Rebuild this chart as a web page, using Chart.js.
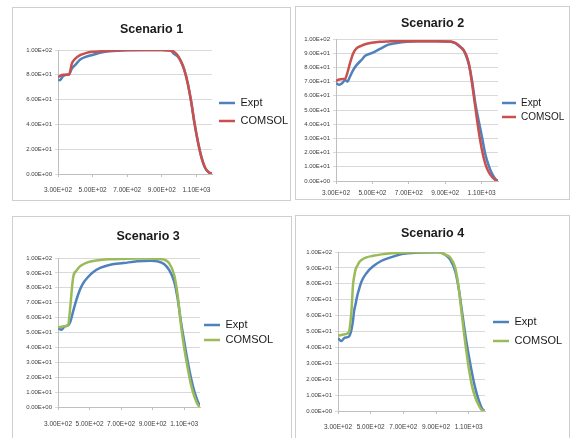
<!DOCTYPE html>
<html>
<head>
<meta charset="utf-8">
<script src="https://cdn.jsdelivr.net/npm/chart.js@4.4.1/dist/chart.umd.min.js"></script>
<style>
  html, body { margin: 0; padding: 0; background: #fff; }
  body { width: 571px; height: 438px; position: relative; overflow: hidden; }
  .panel { position: absolute; border: 1px solid #cfcfcf; box-sizing: border-box; background: #fff; }
  .panel canvas { display: block; }
</style>
</head>
<body>
<div class="panel" id="p1" style="left:12px;top:7px;width:279px;height:194px"><canvas id="c1"></canvas></div>
<div class="panel" id="p2" style="left:295px;top:6px;width:275px;height:194px"><canvas id="c2"></canvas></div>
<div class="panel" id="p3" style="left:12px;top:216px;width:280px;height:224px"><canvas id="c3"></canvas></div>
<div class="panel" id="p4" style="left:295px;top:215px;width:275px;height:225px"><canvas id="c4"></canvas></div>

<script>
// ---- data ----
const seriesNames = ['Expt', 'COMSOL'];
const titles = ['Scenario 1', 'Scenario 2', 'Scenario 3', 'Scenario 4'];

const xTickValues = [300, 500, 700, 900, 1100];
const xTickLabels = ['3.00E+02', '5.00E+02', '7.00E+02', '9.00E+02', '1.10E+03'];

const yTickValues20 = [0, 20, 40, 60, 80, 100];
const yTickLabels20 = ['0.00E+00', '2.00E+01', '4.00E+01', '6.00E+01', '8.00E+01', '1.00E+02'];
const yTickValues10 = [0, 10, 20, 30, 40, 50, 60, 70, 80, 90, 100];
const yTickLabels10 = ['0.00E+00', '1.00E+01', '2.00E+01', '3.00E+01', '4.00E+01', '5.00E+01',
                       '6.00E+01', '7.00E+01', '8.00E+01', '9.00E+01', '1.00E+02'];

// Scenario 1
const s1X = [300, 310, 330, 350, 365, 380, 400, 430, 460, 500, 550, 600, 700, 800, 900, 950, 970, 990, 1010, 1030, 1050, 1070, 1090, 1110, 1130, 1150, 1170, 1190];
const s1Expt = [76, 75.7, 79, 80, 80.5, 85, 88, 92.5, 94.5, 96, 98, 99, 99.8, 100, 100, 99.5, 97, 95, 91, 84, 73, 58, 40, 25, 13, 5, 1.5, 0];
const s1Comsol = [78, 79, 80, 80, 80.5, 89, 93, 96, 97.5, 98.5, 99, 99.5, 100, 100, 100, 99.6, 98.5, 96, 91, 84, 73, 58, 40, 25, 13, 5, 1.5, 0];

// Scenario 2
const s2X = [300, 318, 337, 350, 362, 377, 395, 414, 441, 460, 496, 542, 588, 634, 689, 750, 850, 930, 955, 975, 1000, 1015, 1030, 1047, 1065, 1083, 1102, 1120, 1140, 1160, 1175, 1190];
const s2Expt = [69, 67.7, 69.3, 71.2, 70, 73.6, 78.3, 81.8, 85.4, 88.2, 90, 93, 96, 97.2, 98.1, 98.5, 98.5, 98, 97, 95, 92.5, 88, 82, 71, 55, 43, 31, 19, 10.5, 4.5, 1.6, 0];
const s2Comsol = [70.5, 71.5, 71.8, 72, 76, 83, 90, 93.5, 95.3, 96.3, 97.3, 98, 98.3, 98.5, 98.5, 98.5, 98.5, 98.3, 97.2, 95.5, 92, 89, 82.5, 69, 52.4, 35.8, 21.7, 12.3, 6, 2.5, 0.8, 0];

// Scenario 3
const s3X = [300, 321, 343, 364, 379, 396, 417, 439, 460, 492, 524, 567, 631, 716, 802, 887, 930, 972, 1004, 1036, 1058, 1079, 1100, 1122, 1143, 1164, 1186, 1200];
const s3Expt = [53, 51.9, 54.1, 54.8, 57.5, 64.2, 72, 78.7, 83.2, 87.4, 90.6, 93.3, 95.5, 96.6, 97.8, 98.2, 97.8, 96, 92, 84.3, 73, 57.5, 44, 30.6, 19.5, 10.5, 3.8, 0.5];
const s3Comsol = [53.5, 53.8, 54.2, 55, 68.7, 87, 91.5, 94.4, 95.8, 97.2, 98, 98.6, 99.1, 99.4, 99.6, 99.6, 99.4, 98.9, 96.6, 88.8, 75.4, 55.3, 39.6, 26.2, 15, 7.2, 1.6, 0];

// Scenario 4
const s4X = [300, 320, 341, 366, 382, 392, 398, 407, 419, 433, 444, 474, 515, 567, 628, 690, 772, 915, 956, 987, 1018, 1040, 1060, 1080, 1100, 1121, 1141, 1162, 1182, 1200];
const s4Expt = [45.7, 44, 46.1, 46.7, 51, 57, 62.5, 67, 73, 78, 81.5, 86.7, 91, 94.5, 96.8, 98.7, 99.6, 99.8, 98.3, 95.2, 87.8, 76.5, 62, 47.5, 35.2, 23.6, 14.1, 6.7, 1.5, 0];
const s4Comsol = [47.4, 47.8, 48.2, 49.5, 62.5, 79.4, 84, 88.8, 91.5, 94, 95, 96.6, 97.6, 98.5, 99.2, 99.6, 99.8, 100, 98.3, 96.5, 90, 76.5, 59, 42, 27.5, 15.5, 8.5, 3.5, 0.4, 0];

// ---- styling ----
const FONT = "'Liberation Sans', Arial, sans-serif";
const BLUE = '#4f81bd';
const RED = '#c9504d';
const GREEN = '#9bbb59';

const toPoints = (xs, ys) => xs.map((x, i) => ({ x: x, y: ys[i] }));

function drawPanel(canvasId, cfg) {
    const canvas = document.getElementById(canvasId);
    const box = canvas.parentElement;
    canvas.width = box.clientWidth;
    canvas.height = box.clientHeight;
    const ctx = canvas.getContext('2d');

    // legend width the way Chart.js measures it; cap it at the gap and pad the rest
    ctx.font = cfg.legendFont + 'px ' + FONT;
    const textW = Math.max(...seriesNames.map(s => ctx.measureText(s).width));
    const natural = cfg.legendPad + cfg.legendLine + cfg.legendFont / 2 + textW + 10;
    const padRight = Math.max(0, cfg.rightGap - natural);

    new Chart(ctx, {
        type: 'line',
        data: {
            datasets: [
                {
                    label: seriesNames[0],
                    data: toPoints(cfg.x, cfg.expt),
                    borderColor: BLUE,
                    backgroundColor: BLUE,
                    borderWidth: 2.5,
                    pointRadius: 0,
                    cubicInterpolationMode: 'monotone',
                    order: 1
                },
                {
                    label: seriesNames[1],
                    data: toPoints(cfg.x, cfg.comsol),
                    borderColor: cfg.color,
                    backgroundColor: cfg.color,
                    borderWidth: 2.5,
                    pointRadius: 0,
                    cubicInterpolationMode: 'monotone',
                    order: 0
                }
            ]
        },
        options: {
            responsive: false,
            animation: false,
            devicePixelRatio: 1,
            layout: { padding: { right: padRight } },
            plugins: {
                tooltip: { enabled: false },
                title: {
                    display: true,
                    text: cfg.title,
                    color: '#1a1a1a',
                    font: { family: FONT, size: 12.5, weight: 'bold' },
                    padding: { top: cfg.titleTop, bottom: cfg.titleBottom }
                },
                legend: {
                    position: 'right',
                    fullSize: false,
                    maxWidth: cfg.rightGap,
                    labels: {
                        usePointStyle: true,
                        pointStyle: 'line',
                        pointStyleWidth: cfg.legendLine,
                        padding: cfg.legendPad,
                        color: '#1a1a1a',
                        font: { family: FONT, size: cfg.legendFont },
                        sort: (a, b) => a.datasetIndex - b.datasetIndex
                    }
                }
            },
            scales: {
                x: {
                    type: 'linear',
                    min: 300,
                    max: cfg.xMax,
                    afterBuildTicks: (scale) => { scale.ticks = xTickValues.map(v => ({ value: v })); },
                    afterFit: (scale) => { scale.height = cfg.xh; },
                    ticks: {
                        autoSkip: false,
                        maxRotation: 0,
                        padding: cfg.xPad,
                        color: '#404040',
                        font: { family: FONT, size: 6.5 },
                        callback: (v) => xTickLabels[xTickValues.indexOf(v)]
                    },
                    grid: { drawOnChartArea: false, tickLength: 3, color: '#bfbfbf' },
                    border: { color: '#bfbfbf' }
                },
                y: {
                    min: 0,
                    max: 100,
                    afterBuildTicks: (scale) => { scale.ticks = cfg.yTicks.map(v => ({ value: v })); },
                    afterFit: (scale) => { scale.width = cfg.yw; },
                    ticks: {
                        padding: 3,
                        color: '#404040',
                        font: { family: FONT, size: 6 },
                        callback: (v) => cfg.yLabels[cfg.yTicks.indexOf(v)]
                    },
                    grid: { color: '#d9d9d9', tickLength: 3 },
                    border: { color: '#bfbfbf' }
                }
            }
        }
    });
}

window.onload = () => {
    drawPanel('c1', { title: titles[0], x: s1X, expt: s1Expt, comsol: s1Comsol, color: RED, xMax: 1190,
        yTicks: yTickValues20, yLabels: yTickLabels20,
        yw: 45, xh: 26, xPad: 9, titleTop: 14.5, titleBottom: 12.5,
        rightGap: 78, legendPad: 7, legendLine: 16, legendFont: 11 });
    drawPanel('c2', { title: titles[1], x: s2X, expt: s2Expt, comsol: s2Comsol, color: RED, xMax: 1190,
        yTicks: yTickValues10, yLabels: yTickLabels10,
        yw: 40, xh: 18, xPad: 5, titleTop: 9.5, titleBottom: 7.5,
        rightGap: 71, legendPad: 4, legendLine: 14, legendFont: 10 });
    drawPanel('c3', { title: titles[2], x: s3X, expt: s3Expt, comsol: s3Comsol, color: GREEN, xMax: 1200,
        yTicks: yTickValues10, yLabels: yTickLabels10,
        yw: 45, xh: 32, xPad: 10, titleTop: 12.5, titleBottom: 13.5,
        rightGap: 91, legendPad: 4, legendLine: 16, legendFont: 11 });
    drawPanel('c4', { title: titles[3], x: s4X, expt: s4Expt, comsol: s4Comsol, color: GREEN, xMax: 1200,
        yTicks: yTickValues10, yLabels: yTickLabels10,
        yw: 42, xh: 28, xPad: 9, titleTop: 10.5, titleBottom: 10.5,
        rightGap: 84, legendPad: 8, legendLine: 16, legendFont: 11 });
};
</script>
</body>
</html>
